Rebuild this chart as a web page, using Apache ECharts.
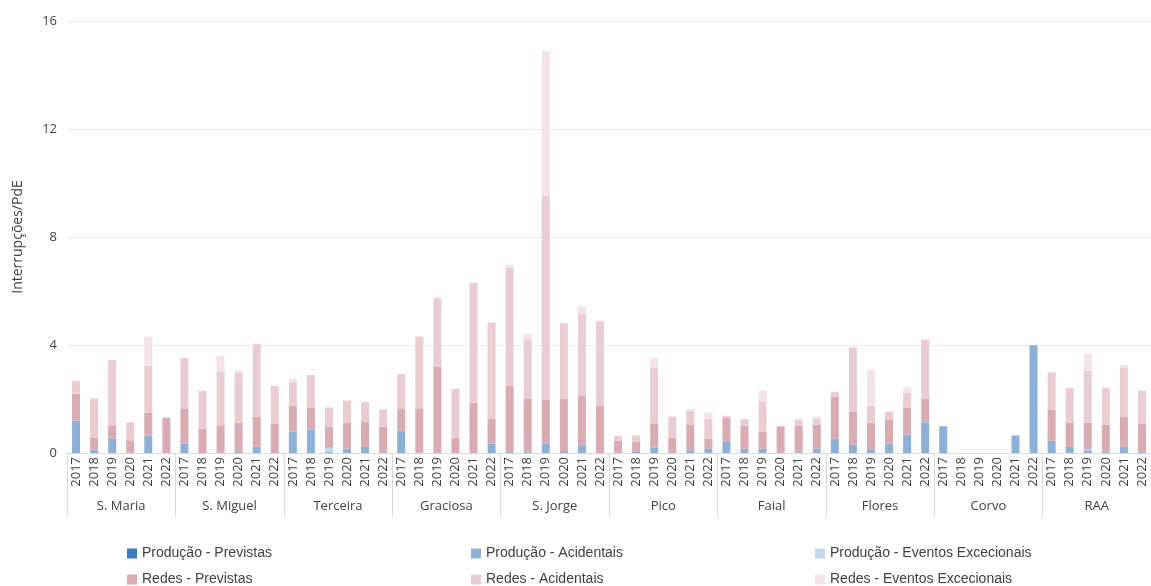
<!DOCTYPE html>
<html>
<head>
<meta charset="utf-8">
<script src="https://cdn.jsdelivr.net/npm/echarts@6/dist/echarts.min.js"></script>
<style>
  html, body { margin: 0; padding: 0; background: #fff; }
  #chart { width: 1151px; height: 586px; }
</style>
</head>
<body>
<div id="chart"></div>
<script>
// categorias
const groups = ['S. Maria', 'S. Miguel', 'Terceira', 'Graciosa', 'S. Jorge', 'Pico', 'Faial', 'Flores', 'Corvo', 'RAA']
const years = ['2017', '2018', '2019', '2020', '2021', '2022']
const yTicks = [0, 4, 8, 12, 16]

// valores por ilha (6 anos cada)
const prodPrevistas = [
  0, 0, 0, 0, 0, 0,
  0, 0, 0, 0, 0, 0,
  0, 0, 0, 0, 0, 0,
  0, 0, 0, 0, 0, 0,
  0, 0, 0, 0, 0, 0,
  0, 0, 0, 0, 0, 0,
  0, 0, 0, 0, 0, 0,
  0, 0, 0, 0, 0, 0,
  0, 0, 0, 0, 0, 0,
  0, 0, 0, 0, 0, 0
]
const prodAcidentais = [
  1.20, 0.12, 0.54, 0, 0.64, 0,
  0.35, 0, 0, 0.06, 0.23, 0,
  0.79, 0.86, 0.05, 0.16, 0.23, 0,
  0.83, 0.02, 0, 0, 0, 0.35,
  0.06, 0.06, 0.35, 0.07, 0.26, 0,
  0, 0.04, 0.20, 0, 0.10, 0.16,
  0.42, 0.16, 0.16, 0, 0.03, 0.16,
  0.53, 0.31, 0.14, 0.35, 0.68, 1.14,
  0.99, 0, 0, 0, 0.65, 3.99,
  0.46, 0.23, 0.10, 0.06, 0.23, 0.06
]
const prodExcecionais = [
  0, 0, 0, 0, 0, 0,
  0, 0, 0, 0, 0, 0,
  0, 0, 0.15, 0, 0, 0,
  0, 0, 0, 0, 0, 0,
  0, 0, 0, 0, 0, 0,
  0, 0, 0, 0, 0, 0,
  0, 0, 0, 0, 0, 0,
  0, 0, 0, 0, 0, 0,
  0, 0, 0, 0, 0, 0,
  0, 0, 0.02, 0, 0, 0
]
const redesPrevistas = [
  1.00, 0.45, 0.46, 0.47, 0.85, 1.30,
  1.28, 0.90, 1.00, 1.06, 1.12, 1.09,
  0.96, 0.82, 0.76, 0.96, 0.93, 0.97,
  0.80, 1.61, 3.20, 0.57, 1.86, 0.91,
  2.43, 1.94, 1.62, 1.93, 1.85, 1.74,
  0.46, 0.37, 0.90, 0.57, 0.94, 0.37,
  0.89, 0.85, 0.63, 0.99, 0.98, 0.89,
  1.56, 1.22, 0.98, 0.90, 1.00, 0.87,
  0, 0, 0, 0, 0, 0,
  1.15, 0.89, 1.00, 0.99, 1.12, 1.03
]
const redesAcidentais = [
  0.47, 1.45, 2.44, 0.67, 1.74, 0.02,
  1.89, 1.40, 2.01, 1.85, 2.68, 1.40,
  0.87, 1.21, 0.73, 0.82, 0.73, 0.65,
  1.30, 2.68, 2.53, 1.80, 4.44, 3.57,
  4.37, 2.19, 7.56, 2.78, 3.04, 3.14,
  0.17, 0.24, 2.06, 0.78, 0.53, 0.74,
  0.07, 0.25, 1.15, 0.02, 0.21, 0.22,
  0.18, 2.38, 0.63, 0.28, 0.55, 2.18,
  0, 0, 0, 0, 0, 0,
  1.38, 1.29, 1.93, 1.35, 1.81, 1.21
]
const redesExcecionais = [
  0, 0, 0, 0, 1.08, 0,
  0, 0, 0.59, 0.10, 0.02, 0,
  0.13, 0, 0, 0, 0, 0,
  0, 0, 0.05, 0, 0, 0,
  0.10, 0.22, 5.36, 0.06, 0.29, 0.02,
  0, 0, 0.36, 0, 0.06, 0.22,
  0, 0, 0.38, 0, 0.06, 0.08,
  0, 0, 1.32, 0, 0.21, 0.02,
  0, 0, 0, 0, 0, 0,
  0, 0, 0.62, 0.04, 0.10, 0.02
]

const seriesDefs = [
  { name: 'Produção - Previstas', data: prodPrevistas, color: '#3e7cbf' },
  { name: 'Produção - Acidentais', data: prodAcidentais, color: '#8db1d6' },
  { name: 'Produção - Eventos Excecionais', data: prodExcecionais, color: '#c5d7eb' },
  { name: 'Redes - Previstas', data: redesPrevistas, color: '#d9abb2' },
  { name: 'Redes - Acidentais', data: redesAcidentais, color: '#eacdd2' },
  { name: 'Redes - Eventos Excecionais', data: redesExcecionais, color: '#f4e3e7' }
]

const yearCats = []
groups.forEach(() => years.forEach(y => yearCats.push(y)))

const font = '"Open Sans", sans-serif'
const legendFont = '"Liberation Sans", sans-serif'

const chart = echarts.init(document.getElementById('chart'))

// uma legenda por coluna
const legendCol = (left, names) => ({
  left: left,
  top: 545,
  height: 60,
  padding: 0,
  orient: 'vertical',
  itemWidth: 10,
  itemHeight: 10,
  itemGap: 9,
  icon: 'rect',
  data: names,
  textStyle: { fontFamily: legendFont, fontSize: 14, lineHeight: 17, color: '#404040' }
})

const option = {
  animation: false,
  grid: { left: 67, right: -7, top: 21, bottom: 133 },
  legend: [
    legendCol(127, [seriesDefs[0].name, seriesDefs[3].name]),
    legendCol(471, [seriesDefs[1].name, seriesDefs[4].name]),
    legendCol(815, [seriesDefs[2].name, seriesDefs[5].name])
  ],
  xAxis: [
    {
      type: 'category',
      data: yearCats,
      position: 'bottom',
      axisLine: { lineStyle: { color: '#d9d9d9' } },
      axisTick: { show: false },
      axisLabel: { interval: 0, rotate: 90, margin: 4, fontFamily: font, fontSize: 13, color: '#404040' }
    },
    {
      type: 'category',
      data: groups,
      position: 'bottom',
      axisLine: { lineStyle: { color: '#d9d9d9' } },
      axisTick: { show: true, interval: 0, length: 64, lineStyle: { color: '#d9d9d9' } },
      axisLabel: { interval: 0, margin: 47, fontFamily: font, fontSize: 13, color: '#404040' }
    }
  ],
  yAxis: {
    type: 'value',
    min: yTicks[0],
    max: yTicks[yTicks.length - 1],
    interval: 4,
    name: 'Interrupções/PdE',
    nameLocation: 'middle',
    nameGap: 42,
    nameTextStyle: { fontFamily: font, fontSize: 14, color: '#404040' },
    axisLine: { show: false },
    axisTick: { show: false },
    axisLabel: { margin: 10, fontFamily: font, fontSize: 13, color: '#404040' },
    splitLine: { lineStyle: { color: '#ececec' } }
  },
  series: seriesDefs.map(s => ({
    name: s.name,
    type: 'bar',
    stack: 'total',
    xAxisIndex: 0,
    barWidth: 8,
    data: s.data,
    itemStyle: { color: s.color }
  }))
}

chart.setOption(option)
</script>
</body>
</html>
